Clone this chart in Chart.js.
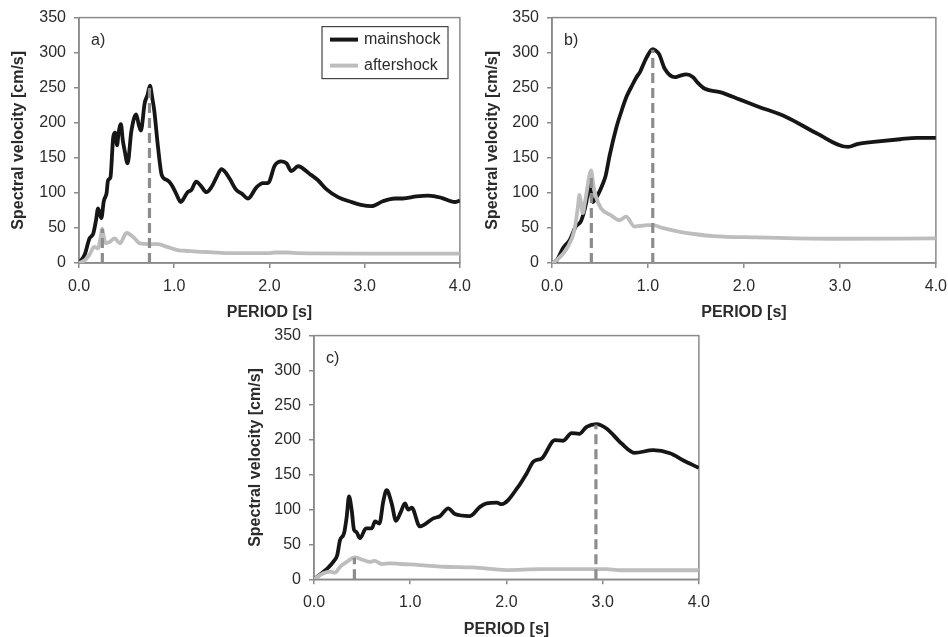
<!DOCTYPE html>
<html>
<head>
<meta charset="utf-8">
<script src="https://cdn.jsdelivr.net/npm/chart.js@4.4.0/dist/chart.umd.min.js"></script>
<style>
  body { margin: 0; background: #fff; width: 948px; height: 637px; position: relative; overflow: hidden; }
  .panel { position: absolute; }
  .panel canvas { display: block; }
</style>
</head>
<body>
<div class="panel" style="left:0;top:0"><canvas id="chartA" width="480" height="324"></canvas></div>
<div class="panel" style="left:474px;top:0"><canvas id="chartB" width="482" height="324"></canvas></div>
<div class="panel" style="left:236px;top:318px"><canvas id="chartC" width="483" height="321"></canvas></div>
<script>
// ---- data (period [s], spectral velocity [cm/s]) ----
var xTicks = [0, 1, 2, 3, 4];
var yTicks = [0, 50, 100, 150, 200, 250, 300, 350];

// panel a)
var periodA_main = [0, 0.06, 0.11, 0.13, 0.15, 0.18, 0.2, 0.235, 0.26, 0.29, 0.305, 0.33, 0.36, 0.38, 0.4, 0.415, 0.44, 0.46, 0.48, 0.51, 0.55, 0.6, 0.63, 0.65, 0.69, 0.72, 0.745, 0.77, 0.79, 0.83, 0.87, 0.93, 0.97, 1.02, 1.07, 1.1, 1.14, 1.18, 1.23, 1.28, 1.338, 1.39, 1.45, 1.496, 1.54, 1.583, 1.653, 1.71, 1.775, 1.863, 1.933, 1.985, 2.056, 2.126, 2.18, 2.23, 2.3, 2.423, 2.51, 2.6, 2.72, 2.86, 2.96, 3.07, 3.19, 3.316, 3.4, 3.545, 3.667, 3.806, 3.946, 4.0];
var svA_main     = [0, 12, 35, 38, 42, 62, 78, 64, 88, 100, 118, 122, 180, 186, 168, 185, 198, 175, 160, 142, 188, 212, 196, 189, 228, 240, 253, 235, 218, 165, 125, 118, 112, 99, 87, 92, 101, 104, 116, 110, 101, 108, 124, 134, 129, 120, 104, 99, 92, 108, 114, 114, 139, 145, 142, 131, 138, 127, 118, 105, 94, 87, 83, 81, 88, 92, 92, 95, 96, 93, 87, 89];
var periodA_after = [0, 0.06, 0.11, 0.16, 0.2, 0.225, 0.242, 0.26, 0.28, 0.32, 0.375, 0.43, 0.5, 0.57, 0.64, 0.74, 0.83, 0.9, 0.97, 1.05, 1.11, 1.28, 1.37, 1.6, 2.0, 2.05, 2.2, 2.3, 3.0, 4.0];
var svA_after     = [0, 4, 12, 23, 21, 35, 49, 38, 28, 30, 35, 28, 43, 37, 28, 27, 27, 24, 21, 18, 17.5, 16, 15.5, 14, 14, 15, 15, 14, 13.5, 13.5];
var peakA_period = [0.245, 0.74];
var peakA_sv     = [49, 250];

// panel b)
var periodB_main = [0, 0.05, 0.114, 0.185, 0.247, 0.303, 0.355, 0.39, 0.425, 0.477, 0.53, 0.56, 0.6, 0.672, 0.72, 0.776, 0.83, 0.88, 0.915, 0.985, 1.05, 1.08, 1.116, 1.175, 1.28, 1.33, 1.4, 1.47, 1.52, 1.593, 1.75, 1.96, 2.13, 2.445, 2.757, 3.085, 3.19, 3.35, 3.627, 3.8, 4.0];
var svB_main     = [0, 4, 21, 33, 52, 60, 85, 112, 87, 97, 113, 125, 153, 194, 215, 237, 252, 265, 272, 293, 305, 303, 298, 277, 265, 267, 269, 265, 257, 248.5, 243.7, 233, 224, 208, 185, 165.5, 170, 172.6, 176.5, 178.5, 178.5];
var periodB_after = [0, 0.05, 0.164, 0.233, 0.268, 0.286, 0.303, 0.32, 0.345, 0.365, 0.39, 0.407, 0.43, 0.459, 0.511, 0.616, 0.703, 0.772, 0.86, 0.92, 0.998, 1.054, 1.15, 1.332, 1.5, 1.68, 2.13, 2.9, 4.0];
var svB_after     = [0, 4, 23, 47, 78, 97, 85, 71, 88, 104, 125, 132, 112, 94, 78, 68, 61, 66, 52, 53, 54, 54, 50, 44.5, 41, 38.4, 36.5, 34.6, 35];
var peakB_period = [0.41, 1.05];
var peakB_sv     = [128, 304];

// panel c)
var periodC_main = [0, 0.08, 0.149, 0.2, 0.242, 0.27, 0.312, 0.34, 0.364, 0.392, 0.416, 0.44, 0.478, 0.54, 0.6, 0.634, 0.68, 0.72, 0.755, 0.807, 0.852, 0.9, 0.945, 0.98, 1.015, 1.1, 1.24, 1.31, 1.395, 1.465, 1.62, 1.725, 1.794, 1.9, 1.95, 2.123, 2.21, 2.28, 2.37, 2.504, 2.59, 2.677, 2.757, 2.833, 2.937, 3.04, 3.197, 3.335, 3.525, 3.7, 3.835, 4.0];
var svC_main     = [0, 8.6, 17, 25, 35, 56, 66, 90, 119, 99, 71, 68, 59, 73, 73, 83, 80, 112, 128, 109, 84, 96, 109, 100, 103, 76, 87.5, 90.8, 102, 93.7, 90.8, 104, 109, 110, 108, 133, 152, 169, 174, 200, 199, 210, 209, 219, 223, 216.6, 195, 181.6, 185.5, 181, 171, 160];
var periodC_after = [0, 0.097, 0.166, 0.218, 0.27, 0.34, 0.426, 0.512, 0.58, 0.63, 0.703, 0.79, 0.9, 1.1, 1.343, 1.655, 2.0, 2.35, 3.04, 3.18, 4.0];
var svC_after     = [0, 8.6, 11, 9.6, 18, 25, 31.5, 27.7, 25, 26.5, 22, 23, 22, 20.5, 18, 17, 13.3, 14.7, 14.7, 13, 13];
var peakC_period = [0.42, 2.93];
var peakC_sv     = [31, 222];

// ---- styling ----
var AXIS_GREY = '#8a8a8a';
var DASH_GREY = '#8c8c8c';
var TEXT_COL = '#2b2b2b';
Chart.defaults.font.family = '"Liberation Sans", Arial, sans-serif';

function toPoints(xs, ys) {
    return xs.map(function(x, i) { return { x: x, y: ys[i] }; });
}

// grey frame round the plot area (top and right sides too)
var plotFrame = {
    id: 'plotFrame',
    beforeDatasetsDraw: function(chart) {
        var a = chart.chartArea, ctx = chart.ctx;
        ctx.save();
        ctx.strokeStyle = AXIS_GREY;
        ctx.lineWidth = 1.5;
        ctx.strokeRect(a.left, a.top, a.right - a.left, a.bottom - a.top);
        ctx.restore();
    }
};

// "a)", "b)", "c)" tag in the corner
var panelTag = {
    id: 'panelTag',
    afterDraw: function(chart, args, opts) {
        var a = chart.chartArea, ctx = chart.ctx;
        ctx.save();
        ctx.fillStyle = TEXT_COL;
        ctx.font = '16px ' + Chart.defaults.font.family;
        ctx.textBaseline = 'middle';
        ctx.fillText(opts.text, a.left + 12, a.top + 23);
        ctx.restore();
    }
};

// boxed legend inside the plot (panel a only)
var boxLegend = {
    id: 'boxLegend',
    afterDraw: function(chart, args, opts) {
        if (!opts.show) return;
        var a = chart.chartArea, ctx = chart.ctx;
        var items = chart.data.datasets.filter(function(d) { return d.label; });
        var bx = a.left + 243, by = a.top + 9, bw = 126, bh = 52;
        ctx.save();
        ctx.fillStyle = '#fff';
        ctx.fillRect(bx, by, bw, bh);
        ctx.strokeStyle = '#444';
        ctx.lineWidth = 1.2;
        ctx.strokeRect(bx, by, bw, bh);
        ctx.font = '16px ' + Chart.defaults.font.family;
        ctx.textBaseline = 'middle';
        items.forEach(function(d, i) {
            var ly = by + 13 + i * 26;
            ctx.strokeStyle = d.borderColor;
            ctx.lineWidth = 4;
            ctx.beginPath();
            ctx.moveTo(bx + 8, ly);
            ctx.lineTo(bx + 36, ly);
            ctx.stroke();
            ctx.fillStyle = TEXT_COL;
            ctx.fillText(d.label, bx + 42, ly);
        });
        ctx.restore();
    }
};

function panelData(mainT, mainV, aftT, aftV, peakT, peakV) {
    var ds = [];
    // dashed markers at the spectral peaks
    peakT.forEach(function(t, i) {
        ds.push({
            data: [{ x: t, y: 0 }, { x: t, y: peakV[i] }],
            borderColor: DASH_GREY,
            borderWidth: 3.2,
            borderDash: [10, 5],
            pointRadius: 0,
            order: 0
        });
    });
    ds.push({
        label: 'mainshock',
        data: toPoints(mainT, mainV),
        borderColor: '#161616',
        borderWidth: 3.8,
        borderJoinStyle: 'round',
        pointRadius: 0,
        cubicInterpolationMode: 'monotone',
        order: 2
    });
    ds.push({
        label: 'aftershock',
        data: toPoints(aftT, aftV),
        borderColor: '#bdbdbd',
        borderWidth: 3.8,
        borderJoinStyle: 'round',
        pointRadius: 0,
        cubicInterpolationMode: 'monotone',
        order: 1
    });
    return { datasets: ds };
}

function panelOptions(p) {
    return {
        responsive: false,
        animation: false,
        events: [],
        layout: { padding: { left: 0, top: p.top, right: 20, bottom: 0 } },
        plugins: {
            legend: { display: false },
            tooltip: { enabled: false },
            panelTag: { text: p.tag },
            boxLegend: { show: p.legend }
        },
        scales: {
            x: {
                type: 'linear',
                min: xTicks[0],
                max: xTicks[xTicks.length - 1],
                afterBuildTicks: function(s) { s.ticks = xTicks.map(function(v) { return { value: v }; }); },
                ticks: { color: TEXT_COL, font: { size: 16 }, padding: 9, callback: function(v) { return v.toFixed(1); } },
                grid: { drawOnChartArea: false, drawTicks: true, tickLength: 5, color: AXIS_GREY, lineWidth: 1.5 },
                border: { color: AXIS_GREY, width: 1.5 },
                title: { display: true, text: 'PERIOD [s]', color: TEXT_COL, font: { size: 16, weight: 'bold' }, padding: { top: 0, bottom: p.xTitlePad } },
                afterFit: function(s) { s.height = p.xHeight; }
            },
            y: {
                type: 'linear',
                min: yTicks[0],
                max: yTicks[yTicks.length - 1],
                afterBuildTicks: function(s) { s.ticks = yTicks.map(function(v) { return { value: v }; }); },
                ticks: { color: TEXT_COL, font: { size: 16 }, padding: 8 },
                grid: { drawOnChartArea: false, drawTicks: true, tickLength: 5, color: AXIS_GREY, lineWidth: 1.5 },
                border: { color: AXIS_GREY, width: 1.5 },
                title: { display: true, text: 'Spectral velocity [cm/s]', color: TEXT_COL, font: { size: 16, weight: 'bold' }, padding: { top: p.yTitlePad, bottom: 0 } },
                afterFit: function(s) { s.width = p.yWidth; }
            }
        }
    };
}

function makePanel(id, data, p) {
    var ctx = document.getElementById(id).getContext('2d');
    return new Chart(ctx, {
        type: 'line',
        data: data,
        options: panelOptions(p),
        plugins: [plotFrame, panelTag, boxLegend]
    });
}

makePanel('chartA',
    panelData(periodA_main, svA_main, periodA_after, svA_after, peakA_period, peakA_sv),
    { tag: 'a)', legend: true, top: 17, yWidth: 79, xHeight: 61, yTitlePad: 9, xTitlePad: 1.4 });

makePanel('chartB',
    panelData(periodB_main, svB_main, periodB_after, svB_after, peakB_period, peakB_sv),
    { tag: 'b)', legend: false, top: 17, yWidth: 78, xHeight: 61, yTitlePad: 8.5, xTitlePad: 1.4 });

makePanel('chartC',
    panelData(periodC_main, svC_main, periodC_after, svC_after, peakC_period, peakC_sv),
    { tag: 'c)', legend: false, top: 17.3, yWidth: 78, xHeight: 59.7, yTitlePad: 9.5, xTitlePad: 0 });
</script>
</body>
</html>
